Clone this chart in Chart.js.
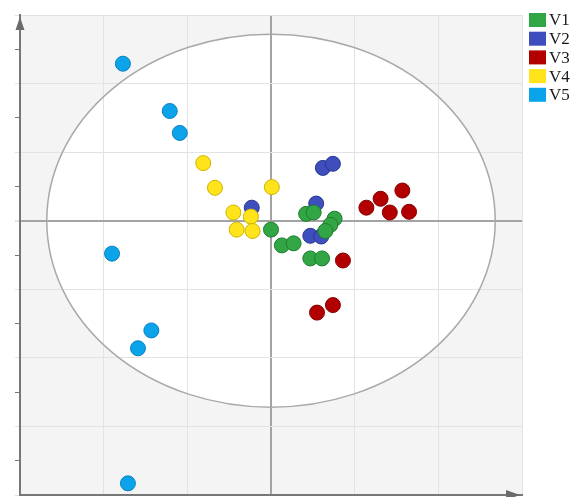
<!DOCTYPE html>
<html>
<head>
<meta charset="utf-8">
<script src="https://cdn.jsdelivr.net/npm/chart.js@4.4.0/dist/chart.umd.min.js"></script>
<style>
  html, body { margin: 0; padding: 0; background: #fff; }
  #wrap { width: 573px; height: 497px; }
</style>
</head>
<body>
<div id="wrap"><canvas id="pcaChart" width="573" height="497"></canvas></div>
<script>
// group names (legend)
var groups = ['V1', 'V2', 'V3', 'V4', 'V5']

// scores
var v1X = [0.00, 0.13, 0.27, 0.42, 0.51, 0.76, 0.71, 0.65, 0.47, 0.61]
var v1Y = [-0.13, -0.36, -0.33, 0.10, 0.12, 0.03, -0.06, -0.15, -0.55, -0.55]
var v2X = [0.62, 0.74, 0.54, -0.23, 0.47, 0.60]
var v2Y = [0.77, 0.83, 0.25, 0.19, -0.22, -0.23]
var v3X = [1.14, 1.31, 1.57, 1.42, 1.65, 0.86, 0.55, 0.74]
var v3Y = [0.19, 0.32, 0.44, 0.12, 0.13, -0.58, -1.34, -1.23]
var v4X = [-0.81, -0.67, 0.01, -0.45, -0.24, -0.41, -0.22]
var v4Y = [0.84, 0.48, 0.49, 0.12, 0.06, -0.13, -0.15]
var v5X = [-1.77, -1.21, -1.09, -1.90, -1.43, -1.59, -1.71]
var v5Y = [2.29, 1.60, 1.28, -0.48, -1.60, -1.86, -3.83]

// confidence ellipse half axes (data units)
var ellipseRx = 2.68
var ellipseRy = 2.72

var fillColors = ['#32a545', '#3e4fbd', '#b20000', '#ffe41c', '#0ba3ea']
var edgeColors = ['#1f7d30', '#2a3790', '#860000', '#cfb400', '#0a80c2']

function pts(xs, ys) {
  return xs.map(function(x, i) { return { x: x, y: ys[i] } })
}

var seriesX = [v1X, v2X, v3X, v4X, v5X]
var seriesY = [v1Y, v2Y, v3Y, v4Y, v5Y]
var drawOrder = [0, 2, 0, 0, 0]

var datasets = groups.map(function(g, i) {
  return {
    label: g,
    data: pts(seriesX[i], seriesY[i]),
    backgroundColor: fillColors[i],
    borderColor: edgeColors[i],
    borderWidth: 1,
    pointRadius: 7.5,
    pointHoverRadius: 7.5,
    order: drawOrder[i]
  }
})

function ellipsePath(chart) {
  var xs = chart.scales.x, ys = chart.scales.y
  var cx = xs.getPixelForValue(0), cy = ys.getPixelForValue(0)
  var rx = xs.getPixelForValue(ellipseRx) - cx
  var ry = cy - ys.getPixelForValue(ellipseRy)
  var ctx = chart.ctx
  ctx.beginPath()
  ctx.ellipse(cx, cy, rx, ry, 0, 0, Math.PI * 2)
}

var pcaDecor = {
  id: 'pcaDecor',
  beforeDraw: function(chart) {
    var ctx = chart.ctx, a = chart.chartArea
    ctx.save()
    ctx.fillStyle = '#f4f4f4'
    ctx.fillRect(a.left, a.top, a.right - a.left, a.bottom - a.top)
    ellipsePath(chart)
    ctx.fillStyle = '#ffffff'
    ctx.fill()
    ctx.restore()
  },
  beforeDatasetsDraw: function(chart) {
    var ctx = chart.ctx, a = chart.chartArea
    ctx.save()
    ellipsePath(chart)
    ctx.strokeStyle = '#a9a9a9'
    ctx.lineWidth = 1.5
    ctx.stroke()
    // axis arrows
    ctx.fillStyle = '#6a6a6a'
    ctx.beginPath()
    ctx.moveTo(a.left, a.top + 2)
    ctx.lineTo(a.left - 4.5, a.top + 15)
    ctx.lineTo(a.left + 4.5, a.top + 15)
    ctx.closePath()
    ctx.fill()
    ctx.beginPath()
    ctx.moveTo(a.right - 2, a.bottom)
    ctx.lineTo(a.right - 16, a.bottom - 5)
    ctx.lineTo(a.right - 16, a.bottom + 5)
    ctx.closePath()
    ctx.fill()
    ctx.restore()
  },
  afterDraw: function(chart) {
    // legend block top right
    var ctx = chart.ctx
    ctx.save()
    ctx.font = '17px "Liberation Serif"'
    ctx.textBaseline = 'middle'
    chart.data.datasets.forEach(function(ds, i) {
      var top = 13 + i * 18.7
      ctx.fillStyle = ds.backgroundColor
      ctx.fillRect(529, top, 17, 14)
      ctx.fillStyle = '#1a1a1a'
      ctx.fillText(ds.label, 549, top + 8)
    })
    ctx.restore()
  }
}

new Chart(document.getElementById('pcaChart').getContext('2d'), {
  type: 'scatter',
  data: { datasets: datasets },
  options: {
    responsive: false,
    animation: false,
    devicePixelRatio: 1,
    layout: { autoPadding: false, padding: { left: 15, top: 15, right: 51, bottom: 2 } },
    plugins: {
      legend: { display: false },
      tooltip: { enabled: false }
    },
    scales: {
      x: {
        type: 'linear',
        min: -3,
        max: 3,
        ticks: { display: false, stepSize: 1 },
        grid: {
          drawTicks: false,
          color: function(c) { return c.tick && c.tick.value === 0 ? '#a3a3a3' : '#e3e3e3' },
          lineWidth: function(c) { return c.tick && c.tick.value === 0 ? 2 : 1 }
        },
        border: { color: '#777', width: 2 }
      },
      y: {
        type: 'linear',
        min: -4,
        max: 3,
        ticks: { display: false, stepSize: 0.5 },
        grid: {
          tickLength: 5,
          color: function(c) {
            var v = c.tick ? c.tick.value : 1
            if (v === 0) return '#a3a3a3'
            return Number.isInteger(v) ? '#e3e3e3' : 'rgba(0,0,0,0)'
          },
          tickColor: function(c) {
            var v = c.tick ? c.tick.value : 1
            return Number.isInteger(v) ? '#e3e3e3' : '#777'
          },
          lineWidth: function(c) { return c.tick && c.tick.value === 0 ? 2 : 1 }
        },
        border: { color: '#777', width: 2 }
      }
    }
  },
  plugins: [pcaDecor]
})
</script>
</body>
</html>
